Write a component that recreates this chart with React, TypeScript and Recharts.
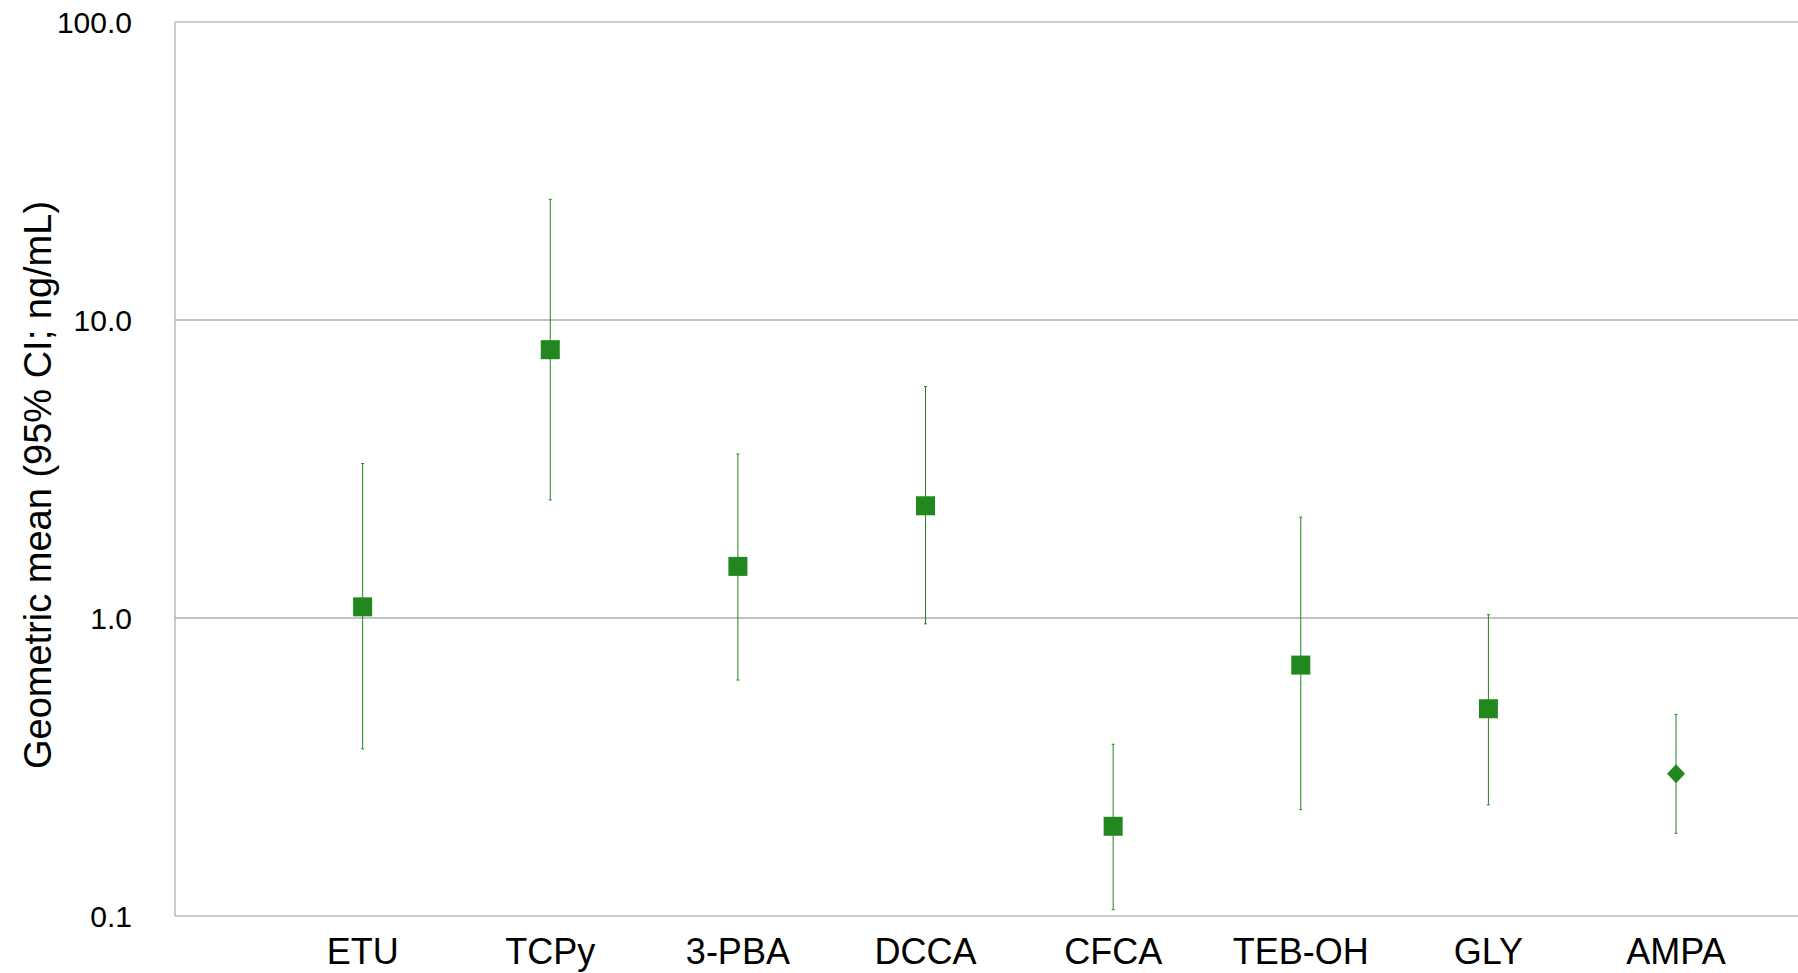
import React from 'react';
import {
  ScatterChart,
  Scatter,
  XAxis,
  YAxis,
  ErrorBar,
  ReferenceLine,
} from 'recharts';

const CATEGORIES = ['ETU', 'TCPy', '3-PBA', 'DCCA', 'CFCA', 'TEB-OH', 'GLY', 'AMPA'];
const GEO_MEAN = [1.09, 7.95, 1.49, 2.38, 0.2, 0.695, 0.496, 0.3];
const CI_LOWER = [0.364, 2.49, 0.619, 0.956, 0.105, 0.2275, 0.236, 0.1895];
const CI_UPPER = [3.3, 25.4, 3.55, 5.98, 0.377, 2.18, 1.026, 0.475];
const Y_TICKS = [0.1, 1, 10, 100];
const DIAMOND_CATEGORIES = ['AMPA'];

const GREEN = '#23871f';
const FONT = '"Liberation Sans", Arial, Helvetica, sans-serif';

const rows = CATEGORIES.map((name, i) => ({
  name,
  x: i + 1,
  gm: GEO_MEAN[i],
  err: [GEO_MEAN[i] - CI_LOWER[i], CI_UPPER[i] - GEO_MEAN[i]],
}));

interface MarkerProps {
  cx?: number;
  cy?: number;
  payload?: { name: string };
}

function Marker({ cx = 0, cy = 0, payload }: MarkerProps) {
  if (payload && DIAMOND_CATEGORIES.includes(payload.name)) {
    const r = 9.5;
    return (
      <polygon
        points={`${cx},${cy - r} ${cx + r - 0.5},${cy} ${cx},${cy + r} ${cx - r + 0.5},${cy}`}
        fill={GREEN}
      />
    );
  }
  const s = 19;
  return <rect x={cx - s / 2} y={cy - s / 2} width={s} height={s} fill={GREEN} />;
}

interface LabelViewBox {
  x: number;
  y: number;
  width: number;
  height: number;
}

function YTitle({ viewBox }: { viewBox?: LabelViewBox }) {
  if (!viewBox) return null;
  const x = viewBox.x + 30;
  const y = viewBox.y + viewBox.height / 2 + 16;
  return (
    <text
      x={x}
      y={y}
      transform={`rotate(-90, ${x}, ${y})`}
      textAnchor="middle"
      dominantBaseline="central"
      fontSize={38}
      fontFamily={FONT}
      fill="#000"
    >
      Geometric mean (95% CI; ng/mL)
    </text>
  );
}

export default function App() {
  // absolutely placed so the body margin never pushes the page into scrolling
  return (
    <div style={{ position: 'absolute', left: 8, top: 0 }}>
      <ScatterChart
        width={1790}
        height={973}
        margin={{ top: 22, right: 0, bottom: 0, left: 0 }}
        style={{ fontFamily: FONT }}
      >
        <ReferenceLine y={10} stroke="#c3c3c3" strokeWidth={2} />
        <ReferenceLine y={1} stroke="#c3c3c3" strokeWidth={2} />
        <ReferenceLine y={100} stroke="#9a9a9a" strokeWidth={1} />
        <XAxis
          type="number"
          dataKey="x"
          domain={[0, 8.65]}
          ticks={[1, 2, 3, 4, 5, 6, 7, 8]}
          tickFormatter={(v: number) => CATEGORIES[v - 1] ?? ''}
          allowDataOverflow
          height={57}
          tickLine={false}
          tickSize={0}
          tickMargin={22}
          axisLine={{ stroke: '#9a9a9a', strokeWidth: 1 }}
          tick={{ fontSize: 36, fill: '#000', fontFamily: FONT }}
          interval={0}
        />
        <YAxis
          type="number"
          dataKey="gm"
          scale="log"
          domain={[0.1, 100]}
          ticks={Y_TICKS}
          allowDataOverflow
          tickFormatter={(v: number) => v.toFixed(1)}
          width={167}
          tickLine={false}
          tickSize={0}
          tickMargin={43}
          axisLine={{ stroke: '#9a9a9a', strokeWidth: 1 }}
          tick={{ fontSize: 30, fill: '#000', fontFamily: FONT }}
          interval={0}
          label={<YTitle />}
        />
        <Scatter data={rows} shape={<Marker />} isAnimationActive={false}>
          <ErrorBar
            dataKey="err"
            direction="y"
            width={1.5}
            stroke={GREEN}
            strokeWidth={1}
            isAnimationActive={false}
          />
        </Scatter>
      </ScatterChart>
    </div>
  );
}
